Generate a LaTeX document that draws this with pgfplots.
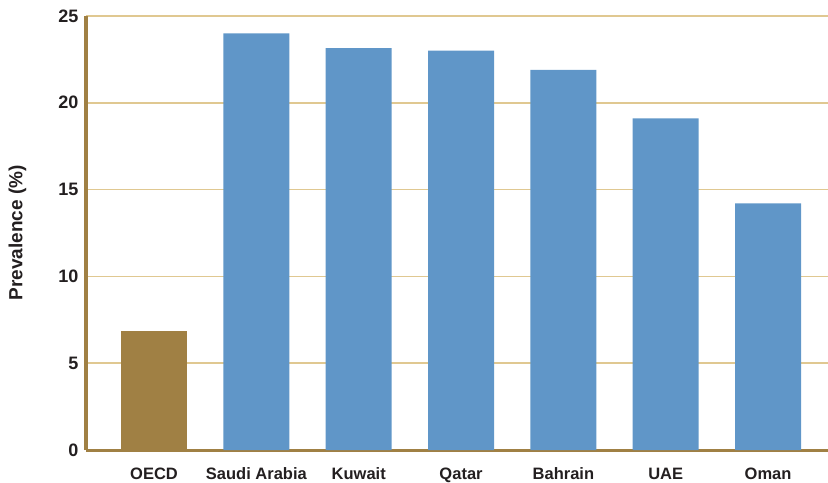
\documentclass[border=0pt]{standalone}
\usepackage{pgfplots}
\pgfplotsset{compat=1.18}
\usepackage{fontspec}
\setmainfont{Liberation Sans}
\usetikzlibrary{calc}
\definecolor{goldbar}{RGB}{160,128,68}
\definecolor{bluebar}{RGB}{96,150,200}
\definecolor{gridtan}{RGB}{224,200,145}
\definecolor{txt}{RGB}{35,31,32}
\begin{document}
\begin{tikzpicture}
\begin{axis}[
  scale only axis, width=742pt, height=434pt,
  xmin=-0.665, xmax=6.586, ymin=0, ymax=25,
  axis x line*=bottom, axis y line*=left,
  x axis line style={draw=goldbar, line width=3pt, -},
  y axis line style={draw=goldbar, line width=3pt, -},
  xtick={0,...,6}, xticklabels={OECD,Saudi Arabia,Kuwait,Qatar,Bahrain,UAE,Oman},
  ytick={0,5,...,25},
  major tick length=0pt,
  ymajorgrids, major grid style={gridtan, line width=1.5pt},
  yticklabel style={font=\fontsize{18}{21}\selectfont\bfseries, text=txt, xshift=-4pt},
  xticklabel style={font=\fontsize{16.5}{19}\selectfont\bfseries, text=txt, anchor=base, yshift=-29pt},
  /pgf/number format/assume math mode=true,
  ylabel={Prevalence (\%)},
  ylabel style={font=\fontsize{19}{22}\selectfont\bfseries, text=txt, at={(axis description cs:-0.0925,0.5)}, anchor=center},
  ybar, bar width=66pt, bar shift=0pt,
]
\addplot[fill=goldbar, draw=none] coordinates {(0,6.85)};
\addplot[fill=bluebar, draw=none] coordinates {
  (1,24.0) (2,23.15) (3,23.0) (4,21.9) (5,19.1) (6,14.2)};
\end{axis}
\pgfresetboundingbox
\path[use as bounding box] ($(current axis.south west)+(-86pt,-32pt)$) rectangle ($(current axis.north east)+(0pt,16pt)$);
\end{tikzpicture}
\end{document}
